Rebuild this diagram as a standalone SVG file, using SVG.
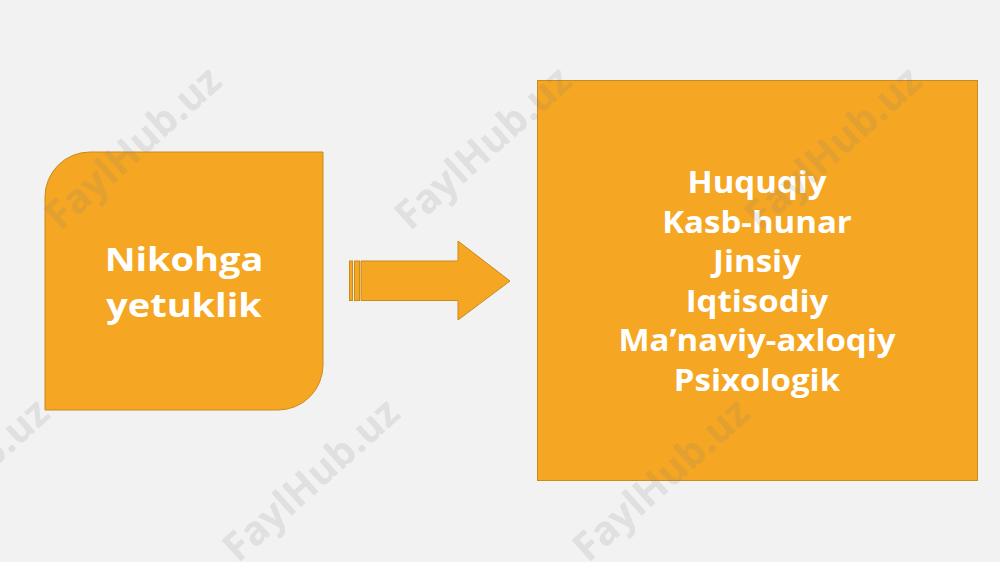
<svg xmlns="http://www.w3.org/2000/svg" width="1000" height="562" viewBox="0 0 1000 562">
<style>
.shape{fill:#F5A623;stroke:#C98A1E;stroke-width:1}
.lbl{font-family:"Open Sans","Noto Sans","Liberation Sans",sans-serif;font-weight:700;fill:#FFFFFF;text-anchor:middle}
.l1{font-size:33px}
.l2{font-size:30px}
.wm{font-family:"Open Sans","Liberation Sans",sans-serif;font-weight:700;font-size:40px;fill:#808080;fill-opacity:0.18;text-anchor:middle}
</style>
<rect width="1000" height="562" fill="#F2F2F2"/>
<g id="left-node">
<path class="shape" d="M90,152 H323 V365 A45,45 0 0 1 278,410 H45 V197 A45,45 0 0 1 90,152 Z"/>
<text class="lbl l1" transform="translate(184,271) scale(1.15,1)">Nikohga</text>
<text class="lbl l1" transform="translate(184,317) scale(1.15,1)">yetuklik</text>
</g>
<g id="connectors">
<rect class="shape" x="349.5" y="261" width="3" height="39.5"/>
<rect class="shape" x="354.5" y="261" width="5" height="39.5"/>
<path class="shape" d="M361,261 H458 V241 L510,281 L458,320 V300.5 H361 Z"/>
</g>
<g id="right-node">
<rect class="shape" x="537.5" y="80.5" width="440" height="400"/>
<text class="lbl l2" transform="translate(757,193) scale(1.1,1)">Huquqiy</text>
<text class="lbl l2" transform="translate(757,233) scale(1.1,1)">Kasb-hunar</text>
<text class="lbl l2" transform="translate(757,272) scale(1.1,1)">Jinsiy</text>
<text class="lbl l2" transform="translate(757,312) scale(1.1,1)">Iqtisodiy</text>
<text class="lbl l2" transform="translate(757,351) scale(1.1,1)">Ma’naviy-axloqiy</text>
<text class="lbl l2" transform="translate(757,391) scale(1.1,1)">Psixologik</text>
</g>
<g id="watermarks">
<text class="wm" transform="translate(142,158) rotate(-42)">FaylHub.uz</text>
<text class="wm" transform="translate(492,158) rotate(-42)">FaylHub.uz</text>
<text class="wm" transform="translate(842,158) rotate(-42)">FaylHub.uz</text>
<text class="wm" transform="translate(-30,490) rotate(-42)">FaylHub.uz</text>
<text class="wm" transform="translate(320,490) rotate(-42)">FaylHub.uz</text>
<text class="wm" transform="translate(670,490) rotate(-42)">FaylHub.uz</text>
</g>
</svg>
